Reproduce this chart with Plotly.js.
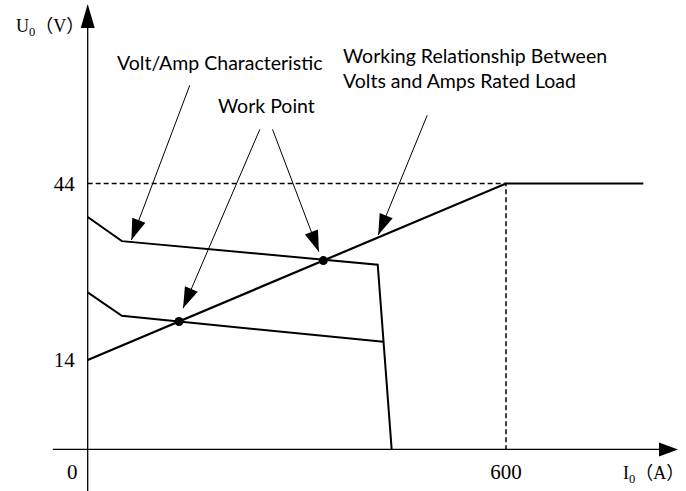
<!DOCTYPE html>
<html><head><meta charset="utf-8">
<script src="https://cdn.plot.ly/plotly-3.0.1.min.js"></script>
<style>html,body{margin:0;padding:0;background:#fff}#chart{width:686px;height:491px}</style>
</head><body><div id="chart"></div>
<script>
// ---- data ----
const upperI = [0, 49, 416, 436];
const upperU = [38.3, 34.2, 30.2, -1.2];
const lowerI = [0, 49, 424];
const lowerU = [25.5, 21.5, 17.1];
const loadI = [0, 600, 797];
const loadU = [14, 44, 44];
const workI = [131, 338];
const workU = [20.55, 30.9];
const ratedI = 600;
const ratedU = 44;
const axisU = -1.2;          // level of the drawn I axis
const yTickVals = [14, 44];
const yTickText = ['14', '44'];
const xTickVals = [600];
const xTickText = ['600'];
const leaderTailI = [146.4, 246.9, 265.1, 487.0];
const leaderTailU = [60.7, 53.2, 53.2, 55.6];
const leaderTipI  = [62.7, 136.8, 331.6, 416.7];
const leaderTipU  = [34.4, 22.8, 32.4, 35.25];
const labelTexts = ['Volt/Amp Characteristic', 'Work Point', 'Working Relationship Between', 'Volts and Amps Rated Load'];
const labelI = [38.8, 184.7, 362.7, 362.7];
const labelU = [64.6, 57.3, 65.8, 61.5];

// ---- layout geometry ----
const W = 686, H = 491;
const X_RANGE = [-125.8, 858.2];
const Y_RANGE = [-8.27, 75.19];
const kx = W / (X_RANGE[1] - X_RANGE[0]);
const ky = H / (Y_RANGE[1] - Y_RANGE[0]);
const serif = 'Liberation Serif, Noto Sans CJK SC, serif';
const sans = 'Lato, Open Sans, sans-serif';

function head(tipX, tipY, tailX, tailY, L, Wd) {
  const dx = (tipX - tailX) * kx, dy = (tipY - tailY) * ky;
  const len = Math.hypot(dx, dy);
  const ux = dx / len, uy = dy / len;
  const px = -uy, py = ux;
  const bx = -L * ux, by = -L * uy;
  const p = (a, b) => a.toFixed(2) + ',' + b.toFixed(2);
  return {
    type: 'path', xref: 'x', yref: 'y', xsizemode: 'pixel', ysizemode: 'pixel',
    xanchor: tipX, yanchor: tipY,
    path: 'M' + p(0, 0) + ' L' + p(bx + px * Wd / 2, by + py * Wd / 2) + ' L' + p(bx - px * Wd / 2, by - py * Wd / 2) + ' Z',
    fillcolor: '#000', line: {width: 0}
  };
}

const traces = [
  {x: [0, ratedI, ratedI], y: [ratedU, ratedU, axisU], mode: 'lines', line: {color: '#000', width: 1.5, dash: '5px,3px'}},
  {x: upperI, y: upperU, mode: 'lines', line: {color: '#000', width: 2}},
  {x: lowerI, y: lowerU, mode: 'lines', line: {color: '#000', width: 2}},
  {x: loadI, y: loadU, mode: 'lines', line: {color: '#000', width: 2.2}},
  {x: workI, y: workU, mode: 'markers', marker: {color: '#000', size: 9}}
];

const shapes = [
  {type: 'line', xref: 'x', yref: 'y', x0: 0, x1: 0, y0: Y_RANGE[0], y1: 71, line: {color: '#000', width: 1.3}},
  {type: 'line', xref: 'x', yref: 'y', x0: -50, x1: 830, y0: axisU, y1: axisU, line: {color: '#000', width: 1.3}},
  {type: 'path', xref: 'x', yref: 'y', xsizemode: 'pixel', ysizemode: 'pixel', xanchor: 846.7, yanchor: axisU,
   path: 'M0,0 L-19,7 L-19,-7 Z', fillcolor: '#000', line: {width: 0}},
  {type: 'path', xref: 'x', yref: 'y', xsizemode: 'pixel', ysizemode: 'pixel', xanchor: 0, yanchor: 74.5,
   path: 'M0,0 L-7,-24 L7,-24 Z', fillcolor: '#000', line: {width: 0}}
];
for (let i = 0; i < leaderTipI.length; i++) {
  shapes.push({type: 'line', xref: 'x', yref: 'y', x0: leaderTailI[i], y0: leaderTailU[i], x1: leaderTipI[i], y1: leaderTipU[i], line: {color: '#000', width: 1}});
  shapes.push(head(leaderTipI[i], leaderTipU[i], leaderTailI[i], leaderTailU[i], 21, 14));
}

const annotations = labelTexts.map((t, i) => ({
  text: t, x: labelI[i], y: labelU[i], xref: 'x', yref: 'y', xanchor: 'left', yanchor: 'middle',
  showarrow: false, font: {family: sans, size: 19.5, color: '#000'}
}));
annotations.push({text: '0', x: -21.1, y: -5.0, xref: 'x', yref: 'y', xanchor: 'center', yanchor: 'middle', showarrow: false, font: {family: serif, size: 21, color: '#000'}});
annotations.push({text: 'U<sub>0</sub>（V）', x: -2.8, y: 70.6, xref: 'x', yref: 'y', xanchor: 'right', yanchor: 'middle', showarrow: false, font: {family: serif, size: 18, color: '#000'}});
annotations.push({text: 'I<sub>0</sub>（A）', x: 1.0, y: -5.4, xref: 'paper', yref: 'y', xanchor: 'right', yanchor: 'middle', showarrow: false, font: {family: serif, size: 18, color: '#000'}});

const layout = {
  width: W, height: H, margin: {l: 0, r: 0, t: 0, b: 0},
  paper_bgcolor: '#fff', plot_bgcolor: '#fff', showlegend: false,
  xaxis: {range: X_RANGE, showgrid: false, zeroline: false, showline: false, ticks: '',
          tickvals: xTickVals, ticktext: xTickText, anchor: 'free', ticklabelstandoff: 8,
          position: (axisU - Y_RANGE[0]) / (Y_RANGE[1] - Y_RANGE[0]),
          tickfont: {family: serif, size: 21, color: '#000'}, fixedrange: true},
  yaxis: {range: Y_RANGE, showgrid: false, zeroline: false, showline: false, ticks: '',
          tickvals: yTickVals, ticktext: yTickText, anchor: 'free', ticklabelstandoff: 13,
          position: (0 - X_RANGE[0]) / (X_RANGE[1] - X_RANGE[0]),
          tickfont: {family: serif, size: 21, color: '#000'}, fixedrange: true},
  shapes: shapes, annotations: annotations
};
Plotly.newPlot('chart', traces, layout, {displayModeBar: false, staticPlot: true});
</script></body></html>
